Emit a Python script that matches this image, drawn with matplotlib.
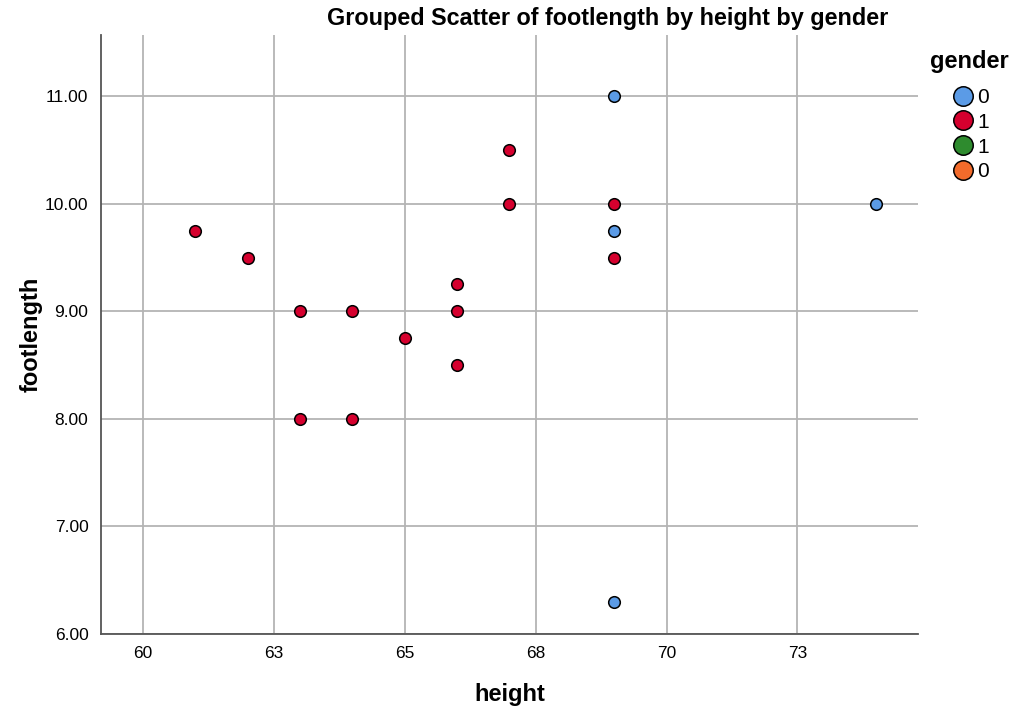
import matplotlib
matplotlib.use("Agg")
import matplotlib.pyplot as plt
from matplotlib.lines import Line2D

plt.rcParams["font.family"] = ["Liberation Sans", "DejaVu Sans"]

# gender 0
height_0 = [69, 69, 69, 74]
foot_0 = [11.0, 9.75, 6.3, 10.0]

# gender 1
height_1 = [61, 62, 63, 64, 63, 64, 65, 66, 66, 66, 67, 67, 69, 69]
foot_1 = [9.75, 9.5, 9.0, 9.0, 8.0, 8.0, 8.75, 9.25, 9.0, 8.5, 10.5, 10.0, 10.0, 9.5]

x_ticks = [60, 62.5, 65, 67.5, 70, 72.5]
x_labels = ["60", "63", "65", "68", "70", "73"]
y_ticks = [6, 7, 8, 9, 10, 11]

legend_labels = ["0", "1", "1", "0"]
legend_colors = ["#5b9be6", "#d5002e", "#2e8b2e", "#f26b2b"]

fig = plt.figure(figsize=(10.11, 7.09), dpi=100)
ax = fig.add_axes([0.0999, 0.1058, 0.808, 0.845])

ax.scatter(height_0, foot_0, s=70, color="#5b9be6", edgecolor="black", linewidth=1.1, zorder=3)
ax.scatter(height_1, foot_1, s=70, color="#d5002e", edgecolor="black", linewidth=1.1, zorder=3)

ax.set_xlim(59.2, 74.8)
ax.set_ylim(6.0, 11.57)
ax.set_xticks(x_ticks)
ax.set_xticklabels(x_labels)
ax.set_yticks(y_ticks)
ax.set_yticklabels([f"{v:.2f}" for v in y_ticks])
ax.tick_params(length=0, labelsize=12.5, pad=9)

ax.grid(True, color="#b4b4b4", linewidth=1.3)
ax.set_axisbelow(True)
for s in ["top", "right"]:
    ax.spines[s].set_visible(False)
for s in ["left", "bottom"]:
    ax.spines[s].set_color("#555555")
    ax.spines[s].set_linewidth(1.3)

ax.set_xlabel("height", fontsize=17, fontweight="bold")
ax.set_ylabel("footlength", fontsize=17, fontweight="bold")
ax.xaxis.set_label_coords(0.5, -0.081)
ax.yaxis.set_label_coords(-0.072, 0.5)

fig.text(608 / 1011, 1 - 18 / 709, "Grouped Scatter of footlength by height by gender",
         fontsize=16.8, fontweight="bold", ha="center", va="center")

handles = [Line2D([], [], marker="o", linestyle="", markersize=14,
                  markerfacecolor=c, markeredgecolor="black", markeredgewidth=1.1)
           for c in legend_colors]
leg = fig.legend(handles, legend_labels, title="gender", loc="upper left",
                 bbox_to_anchor=(0.92, 0.93), frameon=False, fontsize=15,
                 handletextpad=0.1, labelspacing=0.28, handlelength=1.2,
                 borderpad=0, borderaxespad=0,
                 title_fontproperties={"weight": "bold", "size": 17})
leg._legend_box.sep = 11

fig.savefig("out.png", dpi=100)
